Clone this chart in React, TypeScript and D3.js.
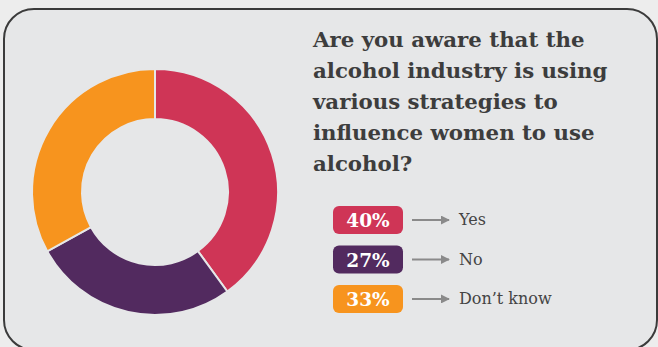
import React from "react";
import * as d3 from "d3";

const categories = ["Yes", "No", "Don’t know"];
const values = [40, 27, 33];
const valueLabels = ["40%", "27%", "33%"];
const colors = ["#cf3556", "#522a5f", "#f7941e"];
const titleLines = [
  "Are you aware that the",
  "alcohol industry is using",
  "various strategies to",
  "influence women to use",
  "alcohol?",
];

const W = 658;
const H = 347;

export default function App() {
  const cx = 155;
  const cy = 192;
  const pie = d3.pie<number>().sort(null).value((d) => d)(values);
  const arc = d3.arc<d3.PieArcDatum<number>>().innerRadius(73).outerRadius(123);

  const serif = "'DejaVu Serif', serif";
  const rowY = d3.scaleBand<string>().domain(categories).range([206, 313]).paddingInner(0.29).paddingOuter(0);

  return (
    <svg width={W} height={H} style={{ position: "absolute", left: 0, top: 0 }}>
      <defs>
        <marker id="ah" viewBox="0 0 10 10" refX="9" refY="5" markerWidth="4.5" markerHeight="4.5" orient="auto">
          <path d="M0,0 L10,5 L0,10 z" fill="#8a8a8a" />
        </marker>
      </defs>
      <rect x={0} y={0} width={W} height={H} fill="#ededed" />
      <rect x={4} y={9} width={653} height={341} rx={30} ry={30} fill="#e6e7e8" stroke="#3b3b3b" strokeWidth={2} />
      <g transform={`translate(${cx},${cy})`}>
        {pie.map((p, i) => (
          <path key={i} d={arc(p) || ""} fill={colors[i]} stroke="#e6e7e8" strokeWidth={2} />
        ))}
      </g>
      <text fontFamily={serif} fontWeight="bold" fontSize={21.3} fill="#3d3d3d">
        {titleLines.map((t, i) => (
          <tspan key={i} x={313} y={47 + i * 31}>
            {t}
          </tspan>
        ))}
      </text>
      {categories.map((c, i) => {
        const y0 = rowY(c) as number;
        const h = rowY.bandwidth();
        const ym = y0 + h / 2;
        return (
          <g key={c}>
            <rect x={333} y={y0} width={70} height={h} rx={6} fill={colors[i]} />
            <text x={368} y={ym + 7} textAnchor="middle" fontFamily={serif} fontWeight="bold" fontSize={18.5} fill="#ffffff">
              {valueLabels[i]}
            </text>
            <line x1={412} x2={449} y1={ym} y2={ym} stroke="#8a8a8a" strokeWidth={2} markerEnd="url(#ah)" />
            <text x={459} y={ym + 5} fontFamily={serif} fontSize={16} fill="#444444">
              {c}
            </text>
          </g>
        );
      })}
    </svg>
  );
}
